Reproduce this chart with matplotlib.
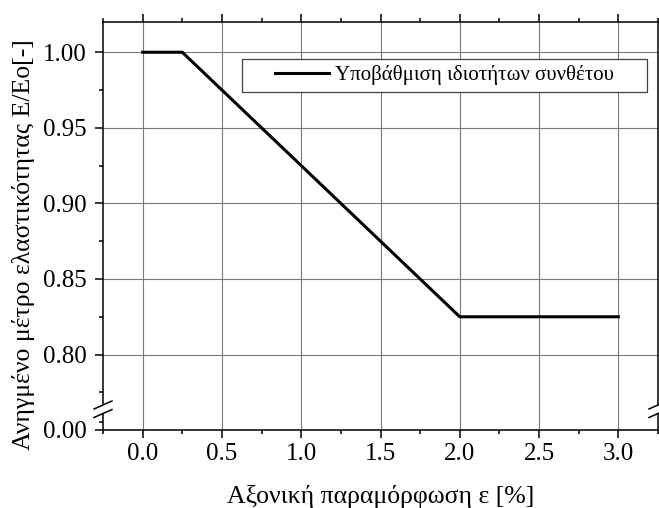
import matplotlib
matplotlib.use("Agg")
import matplotlib.pyplot as plt
from matplotlib.lines import Line2D
from matplotlib.patches import Rectangle
from matplotlib.ticker import FixedLocator, MultipleLocator

# Degradation of composite stiffness vs axial strain
strain = [0.0, 0.25, 2.0, 3.0]
modulus_ratio = [1.0, 1.0, 0.825, 0.825]

x_ticks = [0.0, 0.5, 1.0, 1.5, 2.0, 2.5, 3.0]
upper_yticks = [0.80, 0.85, 0.90, 0.95, 1.00]
lower_yticks = [0.00]

series_label = "Υποβάθμιση ιδιοτήτων συνθέτου"
x_label = "Αξονική παραμόρφωση ε [%]"
y_label = "Ανηγμένο μέτρο ελαστικότητας E/Eo[-]"

plt.rcParams["font.family"] = ["Liberation Serif", "DejaVu Serif"]

W, H = 659, 508
fig = plt.figure(figsize=(W / 100, H / 100), dpi=100)


def fx(px):
    return px / W


def fy(py):
    return 1 - py / H


left, right, top, brk, bottom = 103, 658, 22, 409, 430
ax = fig.add_axes([fx(left), fy(brk), fx(right) - fx(left), fy(top) - fy(brk)])
ax_low = fig.add_axes([fx(left), fy(bottom), fx(right) - fx(left), fy(brk) - fy(bottom)],
                      sharex=ax)

grid_kw = dict(color="#7a7a7a", linewidth=0.8)
spine_w = 1.1
tick_fs = 18

for a in (ax, ax_low):
    a.plot(strain, modulus_ratio, color="black", linewidth=2.2, zorder=3,
           label=series_label)
    a.set_xlim(-0.25, 3.25)
    a.xaxis.set_major_locator(FixedLocator(x_ticks))
    a.xaxis.set_minor_locator(MultipleLocator(0.25))
    a.grid(True, which="major", **grid_kw)
    a.set_axisbelow(True)
    for s in a.spines.values():
        s.set_linewidth(spine_w)
    a.tick_params(which="major", direction="out", length=6, width=spine_w,
                  labelsize=tick_fs)
    a.tick_params(which="minor", direction="out", length=3, width=spine_w)
    a.tick_params(axis="y", which="both", right=False, pad=6)

# upper part: 0.80 .. 1.00, ticks on the top edge
ax.set_ylim(0.764, 1.02)
ax.yaxis.set_major_locator(FixedLocator(upper_yticks))
ax.yaxis.set_minor_locator(MultipleLocator(0.025))
ax.yaxis.set_major_formatter(lambda v, p: f"{v:.2f}")
ax.spines["bottom"].set_visible(False)
ax.tick_params(axis="x", which="both", bottom=False, labelbottom=False,
               top=True, labeltop=False)

# lower part: just the zero
ax_low.set_ylim(0.0, 0.063)
ax_low.yaxis.set_major_locator(FixedLocator(lower_yticks))
ax_low.yaxis.set_minor_locator(FixedLocator([0.025]))
ax_low.yaxis.set_major_formatter(lambda v, p: f"{v:.2f}")
ax_low.spines["top"].set_visible(False)
ax_low.tick_params(axis="x", which="both", top=False, pad=3.5)
ax_low.xaxis.set_major_formatter(lambda v, p: f"{v:.1f}")

# axis break marks on both side spines
for xs in (left, right):
    fig.add_artist(Rectangle((fx(xs - 3), fy(413)), fx(6), fy(405) - fy(413),
                             transform=fig.transFigure, facecolor="white",
                             edgecolor="none", zorder=10))
    for yc in (405, 413.5):
        fig.add_artist(Line2D([fx(xs - 9), fx(xs + 9)], [fy(yc + 4), fy(yc - 4)],
                              transform=fig.transFigure, color="black",
                              linewidth=1.1, zorder=11))

# legend inside a wide framed box
ax.add_patch(Rectangle((0.25, 0.819), 0.73, 0.085, transform=ax.transAxes,
                       facecolor="white", edgecolor="#404040", linewidth=0.9,
                       zorder=4))
ax.legend(loc="center", bbox_to_anchor=(0.615, 0.862), frameon=False,
          fontsize=15, handlelength=2.6, handletextpad=0.25).set_zorder(5)

fig.text(fx(380.5), fy(503), x_label, ha="center", va="baseline", fontsize=18.5)
fig.text(fx(30), fy(244.5), y_label, ha="center", va="baseline", rotation=90,
         rotation_mode="anchor", fontsize=18.5)

fig.savefig("out.png", dpi=100)
